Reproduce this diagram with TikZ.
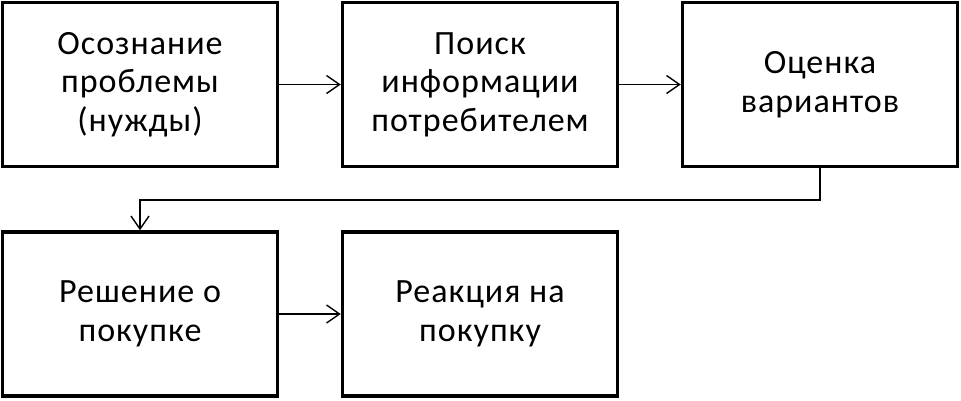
\documentclass[tikz,border=0pt]{standalone}
\usepackage{fontspec}
\setmainfont[LetterSpace=3]{Carlito}
\usetikzlibrary{arrows.meta}
\begin{document}
\begin{tikzpicture}[x=1pt,y=-1pt,
  stagebox/.style={draw=black, line width=3.5pt, minimum width=275pt, minimum height=164pt,
    inner sep=0pt, align=center, font=\fontsize{34pt}{38.5pt}\selectfont, text=black},
  flow/.style={line width=1.4pt, -{Straight Barb[length=13pt,width=18pt,line width=1.4pt]}}]
\useasboundingbox (0,0) rectangle (961,400);
\node[stagebox] (a) at (140,84.5) {Осознание\\проблемы\\(нужды)};
\node[stagebox] (b) at (480,84.5) {Поиск\\информации\\потребителем};
\node[stagebox] (c) at (820,84.5) {Оценка\\вариантов};
\node[stagebox] (d) at (140,314) {Решение о\\покупке};
\node[stagebox] (e) at (480,314) {Реакция на\\покупку};
\draw[flow] (a) -- (b);
\draw[flow] (b) -- (c);
\draw[flow] (d) -- (e);
\coordinate (m1) at (820,200);
\coordinate (m2) at (140,200);
\draw[flow] (c.south) -- (m1) -- (m2) -- (d.north);
\end{tikzpicture}
\end{document}
